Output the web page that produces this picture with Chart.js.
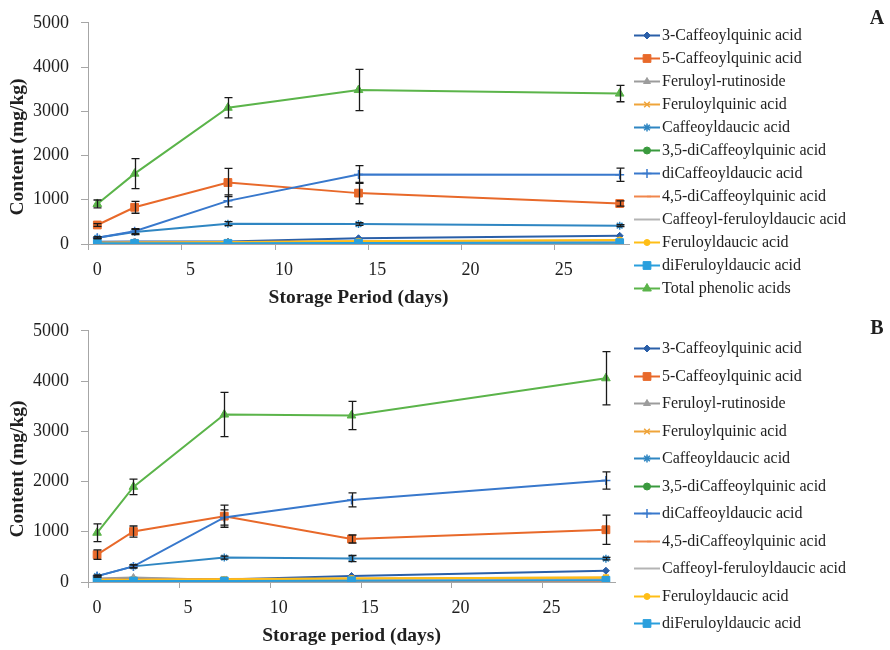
<!DOCTYPE html>
<html>
<head>
<meta charset="utf-8">
<title>Phenolic acids during storage</title>
<script src="https://cdn.jsdelivr.net/npm/chart.js@4.4.0/dist/chart.umd.min.js"></script>
<style>
  body { margin: 0; background: #fff; }
  .panel { position: absolute; left: 0; width: 890px; }
  #wrapA { top: 0; height: 318px; }
  #wrapB { top: 308px; height: 342px; }
</style>
</head>
<body>
<div class="panel" id="wrapA"><canvas id="chartA"></canvas></div>
<div class="panel" id="wrapB"><canvas id="chartB"></canvas></div>
<script>
// sampling days and axis labels
var days = [0, 2, 7, 14, 28];
var xTicks = [0, 5, 10, 15, 20, 25];
var xTickMarks = [-0.5, 4.5, 9.5, 14.5, 19.5, 24.5];
var yTicks = [0, 1000, 2000, 3000, 4000, 5000];

var names = [
    "3-Caffeoylquinic acid",
    "5-Caffeoylquinic acid",
    "Feruloyl-rutinoside",
    "Feruloylquinic acid",
    "Caffeoyldaucic acid",
    "3,5-diCaffeoylquinic acid",
    "diCaffeoyldaucic acid",
    "4,5-diCaffeoylquinic acid",
    "Caffeoyl-feruloyldaucic acid",
    "Feruloyldaucic acid",
    "diFeruloyldaucic acid",
    "Total phenolic acids"
];

// panel A (mg/kg)
var a3CQA   = [50, 55, 55, 130, 185];
var a5CQA   = [430, 830, 1390, 1150, 915];
var aFerRut = [40, 45, 35, 45, 50];
var aFerQA  = [30, 35, 45, 60, 80];
var aCafDA  = [140, 270, 460, 450, 415];
var a35CQA  = [5, 5, 10, 15, 15];
var aDiCafDA = [140, 290, 975, 1570, 1565];
var a45CQA  = [10, 10, 15, 20, 20];
var aCafFerDA = [20, 25, 25, 35, 40];
var aFerDA  = [25, 30, 40, 60, 90];
var aDiFerDA = [15, 15, 15, 20, 30];
var aTotal  = [905, 1590, 3080, 3480, 3400];
var a5CQAErr   = [30, 135, 320, 240, 60];
var aCafDAErr  = [20, 60, 45, 30, 20];
var aDiCafDAErr = [20, 55, 135, 200, 150];
var aTotalErr  = [90, 340, 230, 465, 185];

// panel B (mg/kg)
var b3CQA   = [60, 70, 50, 120, 225];
var b5CQA   = [545, 1005, 1310, 856, 1040];
var bFerRut = [70, 90, 40, 50, 60];
var bFerQA  = [50, 50, 60, 70, 90];
var bCafDA  = [117, 311, 486, 467, 465];
var b35CQA  = [5, 5, 10, 10, 15];
var bDiCafDA = [117, 311, 1284, 1634, 2020];
var b45CQA  = [10, 10, 15, 20, 20];
var bCafFerDA = [30, 40, 30, 40, 50];
var bFerDA  = [40, 40, 50, 70, 90];
var bDiFerDA = [20, 20, 20, 25, 35];
var bTotal  = [980, 1894, 3333, 3314, 4055];
var b5CQAErr   = [95, 110, 220, 80, 290];
var bCafDAErr  = [15, 30, 30, 60, 25];
var bDiCafDAErr = [20, 30, 150, 140, 172];
var bTotalErr  = [175, 155, 440, 280, 530];

// line colour and marker per compound, same order as names
var styles = [
    { color: '#2A5FA8', point: 'rectRot', r: 3.5 },
    { color: '#E8692A', point: 'rect', r: 5.5 },
    { color: '#9C9C9C', point: 'triangle', r: 4 },
    { color: '#EFA43A', point: 'crossRot', r: 4 },
    { color: '#2F86C2', point: 'star', r: 4 },
    { color: '#3A9A3E', point: 'circle', r: 3.5 },
    { color: '#3878CC', point: 'cross', r: 4.5 },
    { color: '#F0864C', point: 'dash', r: 4 },
    { color: '#B4B4B4', point: 'circle', r: 0 },
    { color: '#FFBE16', point: 'circle', r: 3 },
    { color: '#2A9FDD', point: 'rect', r: 5.5 },
    { color: '#5BB44A', point: 'triangle', r: 5 }
];

var axisGray = '#A6A6A6';
var textColor = '#1f1f1f';
var serif = "'Liberation Serif', 'DejaVu Serif', serif";
Chart.defaults.font.family = serif;
Chart.defaults.color = textColor;

function makeSets(series, errors, legendCount) {
    return series.map(function (values, i) {
        var st = styles[i];
        var open = st.point === 'cross' || st.point === 'crossRot' || st.point === 'star' || st.point === 'dash';
        return {
            label: names[i],
            data: days.map(function (d, j) { return { x: d, y: values[j] }; }),
            errors: errors[i] || null,
            inLegend: i < legendCount,
            borderColor: st.color,
            backgroundColor: st.color,
            borderWidth: 2,
            pointStyle: st.point,
            pointRadius: st.r,
            pointHoverRadius: st.r,
            pointBorderWidth: open ? 1.5 : 1,
            order: series.length - i
        };
    });
}

// error bars, offset x tick marks, legend and titles
var extras = {
    id: 'panelExtras',
    afterDatasetsDraw: function (chart) {
        var ctx = chart.ctx, xs = chart.scales.x, ys = chart.scales.y;
        ctx.save();
        ctx.strokeStyle = '#1a1a1a';
        ctx.lineWidth = 1.3;
        chart.data.datasets.forEach(function (ds) {
            if (!ds.errors) return;
            ds.data.forEach(function (p, i) {
                var e = ds.errors[i];
                if (!e) return;
                var px = Math.round(xs.getPixelForValue(p.x)) + 0.5;
                var top = ys.getPixelForValue(p.y + e);
                var bot = ys.getPixelForValue(p.y - e);
                ctx.beginPath();
                ctx.moveTo(px, top); ctx.lineTo(px, bot);
                ctx.moveTo(px - 4, top); ctx.lineTo(px + 4, top);
                ctx.moveTo(px - 4, bot); ctx.lineTo(px + 4, bot);
                ctx.stroke();
            });
        });
        ctx.restore();
    },
    afterDraw: function (chart, args, opts) {
        var ctx = chart.ctx, xs = chart.scales.x;
        var bottom = chart.chartArea.bottom;
        ctx.save();

        ctx.strokeStyle = axisGray;
        ctx.lineWidth = 1;
        xTickMarks.forEach(function (v) {
            var px = Math.round(xs.getPixelForValue(v)) + 0.5;
            ctx.beginPath();
            ctx.moveTo(px, bottom);
            ctx.lineTo(px, bottom + 6);
            ctx.stroke();
        });

        var lg = opts.legend, n = 0;
        ctx.font = '16px ' + serif;
        ctx.textBaseline = 'middle';
        ctx.textAlign = 'left';
        chart.data.datasets.forEach(function (ds) {
            if (!ds.inLegend) return;
            var y = Math.round(lg.y + n * lg.step) + 0.5;
            ctx.strokeStyle = ds.borderColor;
            ctx.lineWidth = 2;
            ctx.beginPath();
            ctx.moveTo(lg.x, y);
            ctx.lineTo(lg.x + 26, y);
            ctx.stroke();
            if (ds.pointRadius > 0) {
                ctx.fillStyle = ds.backgroundColor;
                ctx.lineWidth = ds.pointBorderWidth;
                Chart.helpers.drawPoint(ctx, {
                    pointStyle: ds.pointStyle, radius: ds.pointRadius,
                    rotation: 0, borderWidth: ds.pointBorderWidth
                }, lg.x + 13, y);
            }
            ctx.fillStyle = textColor;
            ctx.fillText(ds.label, lg.x + 28, y);
            n++;
        });

        ctx.fillStyle = textColor;
        ctx.font = 'bold 20px ' + serif;
        ctx.textAlign = 'center';
        ctx.fillText(opts.letter.text, opts.letter.x, opts.letter.y);

        ctx.translate(opts.yTitle.x, opts.yTitle.y);
        ctx.rotate(-Math.PI / 2);
        ctx.font = 'bold 19.5px ' + serif;
        ctx.fillText('Content (mg/kg)', 0, 0);
        ctx.restore();
    }
};

function buildChart(id, series, errors, legendCount, cfg) {
    return new Chart(document.getElementById(id), {
        type: 'line',
        data: { datasets: makeSets(series, errors, legendCount) },
        options: {
            responsive: true,
            maintainAspectRatio: false,
            animation: false,
            layout: { padding: { top: cfg.top, right: cfg.right, left: 0, bottom: 0 } },
            plugins: {
                legend: { display: false },
                tooltip: { enabled: false },
                panelExtras: {
                    legend: { x: 634, y: cfg.legendY, step: cfg.legendStep },
                    letter: { text: cfg.letter, x: 877, y: cfg.letterY },
                    yTitle: { x: 18, y: cfg.yTitleY }
                }
            },
            scales: {
                x: {
                    type: 'linear',
                    min: -0.5,
                    max: 28.5,
                    afterBuildTicks: function (scale) {
                        scale.ticks = xTicks.map(function (v) { return { value: v }; });
                    },
                    afterFit: function (scale) { scale.height = cfg.xHeight; },
                    grid: { display: true, drawOnChartArea: false, drawTicks: false },
                    border: { color: axisGray, width: 1 },
                    ticks: {
                        padding: 15, font: { size: 18 }, color: textColor, maxRotation: 0,
                        callback: function (v) { return String(v); }
                    },
                    title: {
                        display: true,
                        text: cfg.xTitle,
                        font: { size: 19.5, weight: 'bold' },
                        color: textColor,
                        padding: { top: 0, bottom: cfg.titlePad }
                    }
                },
                y: {
                    min: 0,
                    max: 5000,
                    afterBuildTicks: function (scale) {
                        scale.ticks = yTicks.map(function (v) { return { value: v }; });
                    },
                    afterFit: function (scale) { scale.width = 88; },
                    grid: { display: true, drawOnChartArea: false, drawTicks: true, tickLength: 7, color: axisGray },
                    border: { color: axisGray, width: 1 },
                    ticks: {
                        padding: 12, font: { size: 18 }, color: textColor,
                        callback: function (v) { return String(v); }
                    }
                }
            }
        },
        plugins: [extras]
    });
}

buildChart('chartA',
    [a3CQA, a5CQA, aFerRut, aFerQA, aCafDA, a35CQA, aDiCafDA, a45CQA, aCafFerDA, aFerDA, aDiFerDA, aTotal],
    [null, a5CQAErr, null, null, aCafDAErr, null, aDiCafDAErr, null, null, null, null, aTotalErr],
    12,
    { top: 16, right: 261, xHeight: 74, titlePad: 8, xTitle: 'Storage Period (days)',
      legendY: 35, legendStep: 23, letter: 'A', letterY: 19, yTitleY: 147 });

buildChart('chartB',
    [b3CQA, b5CQA, bFerRut, bFerQA, bCafDA, b35CQA, bDiCafDA, b45CQA, bCafFerDA, bFerDA, bDiFerDA, bTotal],
    [null, b5CQAErr, null, null, bCafDAErr, null, bDiCafDAErr, null, null, null, null, bTotalErr],
    11,
    { top: 17, right: 275, xHeight: 68, titlePad: 2, xTitle: 'Storage period (days)',
      legendY: 40, legendStep: 27.5, letter: 'B', letterY: 21, yTitleY: 161 });
</script>
</body>
</html>
